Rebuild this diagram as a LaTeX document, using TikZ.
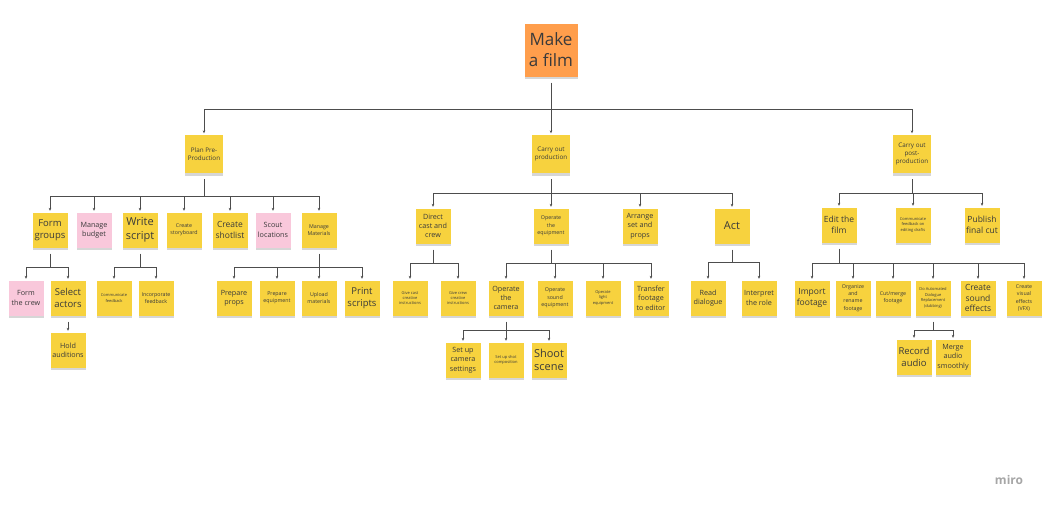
\documentclass[tikz,border=0pt]{standalone}
\usepackage{fontspec}
\setmainfont{Open Sans}
\usetikzlibrary{shadows,arrows.meta}
\definecolor{stickyY}{HTML}{F7D23E}
\definecolor{stickyP}{HTML}{F9C8DB}
\definecolor{stickyO}{HTML}{FF9E4C}
\definecolor{ink}{HTML}{3A3A3A}
\definecolor{wire}{HTML}{4D4D4D}
\newcommand*{\fsz}[2]{\fontsize{#1}{#2}\selectfont}

\tikzset{
  note/.style={rectangle, fill=stickyY, minimum width=35pt, minimum height=35pt,
    inner sep=1pt, align=center, text=ink,
    drop shadow={shadow xshift=0pt, shadow yshift=-2.5pt, opacity=0.16, fill=black}},
  pinknote/.style={note, fill=stickyP},
  phase/.style={note, minimum width=38pt, minimum height=38pt, font=\fsz{6.3}{8}},
  rootnote/.style={note, fill=stickyO, minimum width=53pt, minimum height=53pt, font=\fsz{17}{21}},
  txtXL/.style={font=\fsz{11}{13.5}},
  txtL/.style={font=\fsz{9.5}{12}},
  txtML/.style={font=\fsz{8.5}{10.5}},
  txtM/.style={font=\fsz{7.2}{9.3}},
  txtS/.style={font=\fsz{5.3}{7.3}},
  txtXS/.style={font=\fsz{4}{5.4}},
  link/.style={draw=wire, line width=0.8pt},
  arr/.style={link, -{Stealth[length=3pt,width=2.6pt]}, shorten >=1.5pt},
  stub/.style={link, shorten <=6pt}
}

\begin{document}
\begin{tikzpicture}[x=1pt, y=-1pt]
  \fill[white] (0,0) rectangle (1050,509);
  \useasboundingbox (0,0) rectangle (1050,509);

  % goal and phases
  \node[rootnote] (root) at (551,50) {Make\\a film};
  \node[phase] (pre)  at (204,154) {Plan Pre-\\Production};
  \node[phase] (prod) at (551,154) {Carry out\\production};
  \node[phase] (post) at (912,154) {Carry out\\post-\\production};

  % pre-production
  \node[note, txtL]      (fg)  at (50,230)  {Form\\groups};
  \node[pinknote, txtM]  (mb)  at (94,230)  {Manage\\budget};
  \node[note, txtXL]     (ws)  at (140,230) {Write\\script};
  \node[note, txtS]      (sb)  at (184,230) {Create\\storyboard};
  \node[note, txtML]     (sl)  at (230,230) {Create\\shotlist};
  \node[pinknote, txtM]  (scl) at (273,230) {Scout\\locations};
  \node[note, txtS]      (mm)  at (319,230) {Manage\\Materials};

  \node[pinknote, txtM]  (ftc) at (26,298)  {Form\\the crew};
  \node[note, txtL]      (sa)  at (68,298)  {Select\\actors};
  \node[note, txtM]      (ha)  at (68,350)  {Hold\\auditions};
  \node[note, txtXS]     (cf)  at (114,298) {Communicate\\feedback};
  \node[note, txtS]      (if)  at (156,298) {Incorporate\\feedback};
  \node[note, txtM]      (pp)  at (234,298) {Prepare\\props};
  \node[note, txtS]      (pe)  at (277,298) {Prepare\\equipment};
  \node[note, txtS]      (um)  at (319,298) {Upload\\materials};
  \node[note, txtL]      (ps)  at (362,298) {Print\\scripts};

  % production
  \node[note, txtM]  (dcc) at (433,226) {Direct\\cast and\\crew};
  \node[note, txtS]  (ote) at (551,226) {Operate\\the\\equipment};
  \node[note, txtM]  (asp) at (640,226) {Arrange\\set and\\props};
  \node[note, txtXL] (act) at (732,226) {Act};

  \node[note, txtXS] (gcast) at (410,298) {Give cast\\creative\\instructions};
  \node[note, txtXS] (gcrew) at (458,298) {Give crew\\creative\\instructions};
  \node[note, txtM]  (otc)   at (506,298) {Operate\\the\\camera};
  \node[note, txtS]  (ose)   at (555,298) {Operate\\sound\\equipment};
  \node[note, txtXS] (ole)   at (603,298) {Operate\\light\\equipment};
  \node[note, txtM]  (tfe)   at (651,298) {Transfer\\footage\\to editor};
  \node[note, txtM]  (rd)    at (708,298) {Read\\dialogue};
  \node[note, txtM]  (itr)   at (759,298) {Interpret\\the role};

  \node[note, txtM]  (scs) at (463,360) {Set up\\camera\\settings};
  \node[note, txtXS] (ssc) at (506,360) {Set up shot\\composition};
  \node[note, txtXL] (ss)  at (549,360) {Shoot\\scene};

  % post-production
  \node[note, txtML] (etf) at (839,225) {Edit the\\film};
  \node[note, txtXS] (cfe) at (913,225) {Communicate\\feedback on\\editing drafts};
  \node[note, txtML] (pfc) at (982,225) {Publish\\final cut};

  \node[note, txtML] (imf) at (812,298)  {Import\\footage};
  \node[note, txtS]  (orf) at (853,298)  {Organize\\and\\rename\\footage};
  \node[note, txtS]  (cmf) at (893,298)  {Cut/merge\\footage};
  \node[note, txtXS] (adr) at (933,298)  {Do Automated\\Dialogue\\Replacement\\(dubbing)};
  \node[note, txtML] (cse) at (978,298)  {Create\\sound\\effects};
  \node[note, txtS]  (cvf) at (1024,298) {Create\\visual\\effects\\(VFX)};

  \node[note, txtL]  (rca) at (914,357) {Record\\audio};
  \node[note, txtM]  (mas) at (953,357) {Merge\\audio\\smoothly};

  % branch points
  \coordinate (root-j) at (551,109);
  \coordinate (pre-j)  at (204,196);
  \coordinate (fg-j)   at (50,267);
  \coordinate (ws-j)   at (140,267);
  \coordinate (mm-j)   at (319,267);
  \coordinate (prod-j) at (551,193);
  \coordinate (dcc-j)  at (433,263);
  \coordinate (ote-j)  at (551,263);
  \coordinate (act-j)  at (732,262);
  \coordinate (otc-j)  at (506,330);
  \coordinate (post-j) at (912,193);
  \coordinate (etf-j)  at (839,263);
  \coordinate (adr-j)  at (933,330);

  \foreach \p in {root, pre, fg, ws, mm, prod, dcc, ote, act, otc, post, etf, adr}
  {
    \draw[stub] (\p.south) -- (\p-j);
  }

  \foreach \p/\kids in {root/{pre,prod,post},
      pre/{fg,mb,ws,sb,sl,scl,mm}, fg/{ftc,sa}, ws/{cf,if}, mm/{pp,pe,um,ps},
      prod/{dcc,ote,asp,act}, dcc/{gcast,gcrew}, ote/{otc,ose,ole,tfe},
      act/{rd,itr}, otc/{scs,ssc,ss},
      post/{etf,cfe,pfc}, etf/{imf,orf,cmf,adr,cse,cvf}, adr/{rca,mas}}
  {
    \foreach \c in \kids
    {
      \draw[arr] (\p-j) -| (\c.north);
    }
  }

  \draw[arr, shorten <=6pt] (sa.south) -- (ha.north);

  \node[text=black!35, font=\fsz{12}{14}\bfseries] (logo) at (1009,480) {miro};
\end{tikzpicture}
\end{document}
